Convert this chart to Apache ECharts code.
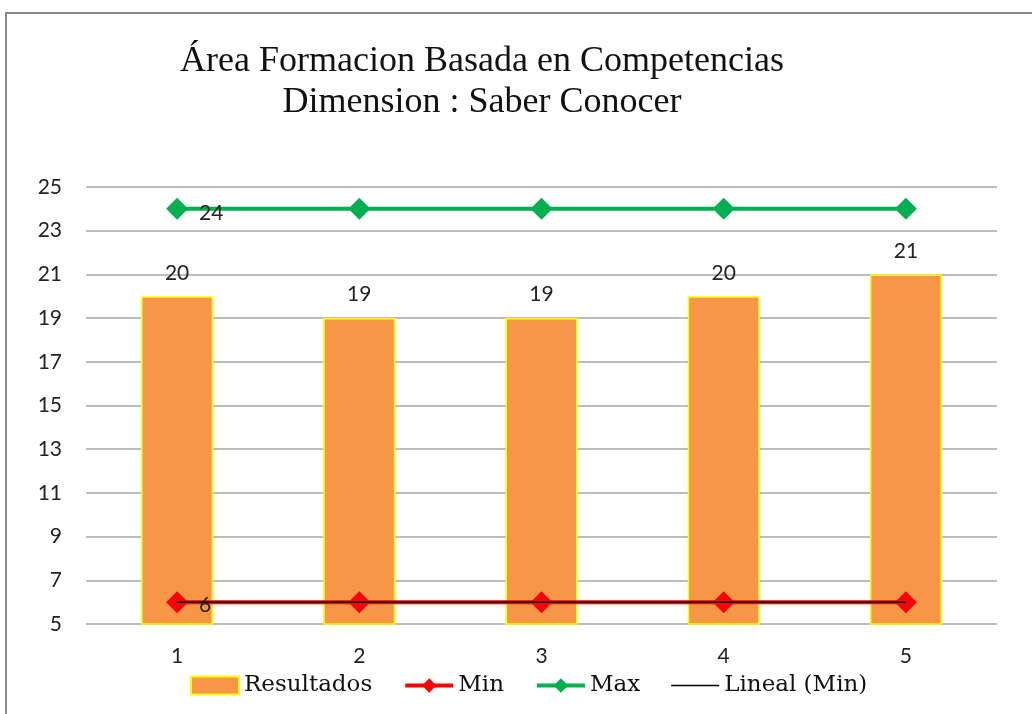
<!DOCTYPE html>
<html><head><meta charset="utf-8">
<script src="https://cdn.jsdelivr.net/npm/echarts@6/dist/echarts.min.js"></script>
<style>html,body{margin:0;padding:0;background:#fff}#c{width:1032px;height:714px}</style>
</head><body><div id="c"></div>
<script>
const categories = ['1','2','3','4','5'];
const resultados = [20,19,19,20,21];
const minVals = [6,6,6,6,6];
const maxVals = [24,24,24,24,24];
const linealMin = [6,6,6,6,6];
const titleText = 'Área Formacion Basada en Competencias\nDimension : Saber Conocer';

const chart = echarts.init(document.getElementById('c'));
const sans = 'Lato';
const serif = 'Liberation Serif';
chart.setOption({
  animation:false,
  backgroundColor:'#fff',
  graphic:[{type:'rect',shape:{x:6,y:13,width:1040,height:720},style:{fill:'none',stroke:'#888',lineWidth:2},silent:true}],
  title:{text:titleText,left:477,top:36,textAlign:'center',
    textStyle:{fontFamily:serif,fontSize:36,fontWeight:'normal',color:'#111',lineHeight:41}},
  grid:{left:86,right:35,top:187,bottom:90},
  xAxis:{type:'category',data:categories,
    axisLine:{show:false},axisTick:{show:false},
    axisLabel:{fontFamily:sans,fontSize:21,color:'#222',margin:22}},
  yAxis:{type:'value',min:5,max:25,interval:2,
    axisLine:{show:false},axisTick:{show:false},
    splitLine:{lineStyle:{color:'#A6A6A6',width:1.5}},
    axisLabel:{fontFamily:sans,fontSize:21,color:'#222',margin:24}},
  legend:{left:190,top:674,padding:0,itemWidth:48,itemHeight:18,itemGap:31,
    textStyle:{fontFamily:'DejaVu Serif',fontSize:23,color:'#111',padding:[0,0,0,0]},
    data:[{name:'Resultados',icon:'rect'},
      {name:'Min',lineStyle:{width:4}},
      {name:'Max',lineStyle:{width:4}},
      {name:'Lineal (Min)',icon:'path://M0,0L48,0L48,1.5L0,1.5Z'}]},
  series:[
    {name:'Resultados',type:'bar',data:resultados,barWidth:72,
     itemStyle:{color:'#F79646',borderColor:'#FFFF00',borderWidth:1.5},
     label:{show:true,position:'top',distance:13,fontFamily:sans,fontSize:21,color:'#222'}},
    {name:'Min',type:'line',data:minVals,symbol:'diamond',symbolSize:22,
     lineStyle:{color:'#FF0000',width:4},itemStyle:{color:'#FF0000'},
     label:{show:true,position:'right',distance:11,offset:[0,3],fontFamily:sans,fontSize:21,color:'#222',
       formatter:p=>p.dataIndex===0?String(p.value):''},z:3},
    {name:'Max',type:'line',data:maxVals,symbol:'diamond',symbolSize:22,
     lineStyle:{color:'#00B050',width:4},itemStyle:{color:'#00B050'},
     label:{show:true,position:'right',distance:11,offset:[0,4],fontFamily:sans,fontSize:21,color:'#222',
       formatter:p=>p.dataIndex===0?String(p.value):''},z:3},
    {name:'Lineal (Min)',type:'line',data:linealMin,symbol:'none',
     lineStyle:{color:'#000',width:1.5},itemStyle:{color:'#000'},z:4}
  ]
});
</script></body></html>
